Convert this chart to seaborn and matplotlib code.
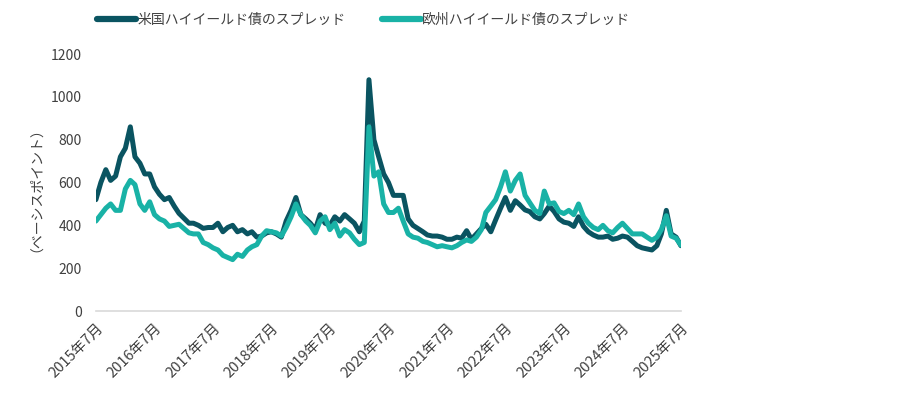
import matplotlib
matplotlib.use('Agg')
import matplotlib.pyplot as plt
import matplotlib.dates as mdates
import seaborn as sns
import pandas as pd

# monthly spread levels (bp), Jul 2015 - Jul 2025
us_spread = [
    520, 600, 660, 610, 630, 720, 760, 860, 720, 690, 640, 640, 580,
    545, 520, 530, 490, 456, 433, 410, 410, 400, 386, 390, 390,
    410, 370, 390, 400, 370, 380, 360, 370, 345, 350, 365, 370,
    360, 345, 420, 470, 530, 450, 430, 410, 380, 450, 410, 400,
    440, 420, 450, 430, 410, 370, 420, 1080, 800, 720, 640, 600,
    540, 540, 540, 430, 400, 385, 370, 355, 350, 350, 345, 335,
    335, 345, 340, 375, 335, 360, 385, 405, 370, 425, 480, 530,
    470, 515, 495, 472, 464, 440, 430, 455, 490, 465, 430, 415,
    410, 395, 440, 395, 370, 355, 345, 345, 350, 335, 340, 350,
    345, 325, 305, 295, 290, 285, 305, 360, 470, 360, 345, 305,
]
eu_spread = [
    420, 450, 480, 500, 470, 470, 570, 610, 590, 500, 470, 510, 450,
    430, 420, 395, 400, 405, 385, 365, 360, 360, 320, 310, 295,
    285, 260, 250, 240, 265, 255, 285, 300, 310, 350, 375, 370,
    365, 350, 390, 440, 500, 450, 420, 400, 365, 420, 440, 380,
    410, 350, 380, 365, 335, 310, 320, 860, 630, 650, 500, 460,
    460, 480, 420, 360, 345, 340, 325, 320, 310, 300, 305, 300,
    295, 305, 320, 332, 325, 345, 380, 460, 490, 520, 580, 650,
    560, 610, 640, 540, 505, 470, 455, 560, 500, 505, 465, 455,
    470, 450, 500, 440, 410, 390, 380, 400, 375, 365, 390, 410,
    385, 360, 360, 360, 345, 330, 345, 380, 445, 350, 340, 308,
]
series_names = ['米国ハイイールド債のスプレッド', '欧州ハイイールド債のスプレッド']
series_colors = ['#0a5461', '#19b2a6']
y_ticks = [0, 200, 400, 600, 800, 1000, 1200]
y_label = '（ベーシスポイント）'

dates = pd.date_range('2015-07-01', periods=len(us_spread), freq='MS')
df = pd.concat([
    pd.DataFrame({'date': dates, 'spread': us_spread, 'series': series_names[0]}),
    pd.DataFrame({'date': dates, 'spread': eu_spread, 'series': series_names[1]}),
])

sns.set_style('white')
plt.rcParams['font.family'] = ['Noto Sans CJK JP', 'DejaVu Sans']

fig = plt.figure(figsize=(9.22, 3.96), dpi=100)
ax = fig.add_axes([0.104, 0.2146, 0.6345, 0.649])

sns.lineplot(data=df, x='date', y='spread', hue='series',
             palette=dict(zip(series_names, series_colors)),
             linewidth=3.6, ax=ax, legend=False)

ax.set_xlim(pd.Timestamp('2015-07-01'), pd.Timestamp('2025-07-01'))
ax.set_ylim(0, 1200)
ax.set_yticks(y_ticks)
ax.xaxis.set_major_locator(mdates.MonthLocator(bymonth=7))
ax.set_xticklabels([f'{d.year}年7月' for d in pd.date_range('2015-07-01', '2025-07-01', freq='12MS')])
ax.tick_params(axis='x', length=5, color='#d9d9d9', width=1, labelsize=10.5,
               labelcolor='#404040', rotation=45, pad=2)
for lab in ax.get_xticklabels():
    lab.set_ha('right')
    lab.set_rotation_mode('anchor')
ax.tick_params(axis='y', length=0, labelsize=10, labelcolor='#404040', pad=10)

for side in ['top', 'right', 'left']:
    ax.spines[side].set_visible(False)
ax.spines['bottom'].set_color('#d9d9d9')
ax.spines['bottom'].set_linewidth(1.2)

ax.set_xlabel('')
ax.set_ylabel(y_label, fontsize=10, color='#404040', labelpad=11)

handles = [plt.Line2D([], [], color=c, linewidth=4.5) for c in series_colors]
fig.legend(handles, series_names, loc='upper left', bbox_to_anchor=(0.092, 1.0),
           ncol=2, frameon=False, fontsize=10, handlelength=2.8,
           handletextpad=0.1, columnspacing=2.6, labelcolor='#404040')

fig.savefig('out.png', dpi=100)
